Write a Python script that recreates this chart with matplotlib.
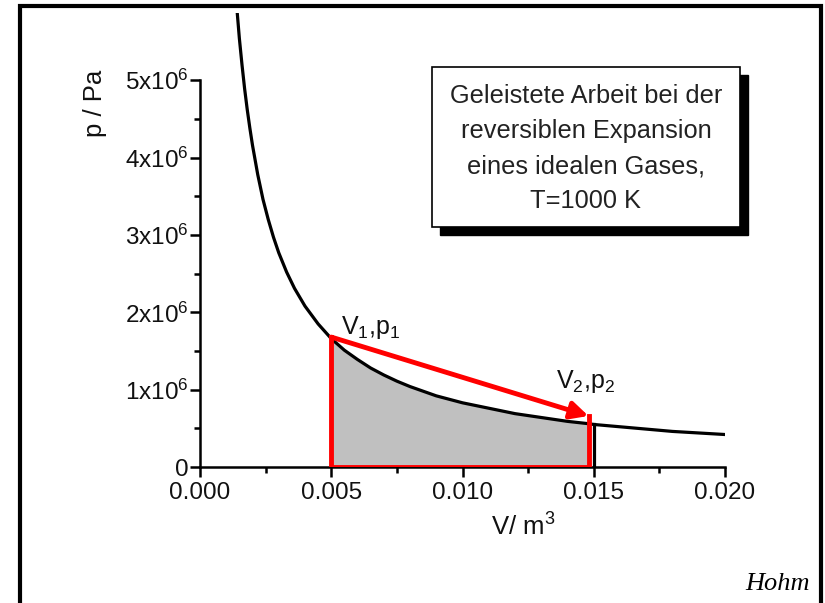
#!/usr/bin/env python3
"""Isotherm p-V diagram: work of a reversible expansion of an ideal gas."""

import matplotlib
matplotlib.use('Agg')
import matplotlib.pyplot as plt
from matplotlib.lines import Line2D
from matplotlib.patches import Rectangle
from matplotlib.ticker import FixedLocator, FuncFormatter

plt.rcParams['font.family'] = ['Liberation Sans', 'DejaVu Sans']
plt.rcParams['mathtext.fontset'] = 'custom'
plt.rcParams['mathtext.rm'] = 'Liberation Sans'
plt.rcParams['mathtext.it'] = 'Liberation Sans:italic'

# isotherm (V in m^3, p in 1e6 Pa)
volume = [0.00137, 0.0015, 0.0016, 0.0017, 0.0018, 0.0019, 0.0020, 0.0022,
          0.0024, 0.0026, 0.0028, 0.0030, 0.0033, 0.0036, 0.0040, 0.0045,
          0.0050, 0.0055, 0.0060, 0.0065, 0.0070, 0.0075, 0.0080, 0.0090,
          0.0100, 0.0110, 0.0120, 0.0130, 0.0140, 0.0148, 0.0150, 0.0160,
          0.0170, 0.0180, 0.0190, 0.0200]
pressure = [6.07, 5.54, 5.20, 4.89, 4.62, 4.38, 4.16, 3.78,
            3.46, 3.20, 2.97, 2.77, 2.52, 2.31, 2.08, 1.85,
            1.66, 1.51, 1.39, 1.28, 1.19, 1.11, 1.04, 0.92,
            0.83, 0.76, 0.69, 0.64, 0.59, 0.56, 0.55, 0.52,
            0.49, 0.46, 0.44, 0.42]
pressure = [p * 1e6 for p in pressure]

# red path V1,p1 -> V2,p2
v1, p1 = 0.0050, 1.68e6
v2, p2 = 0.0148, 0.66e6
v_end, p_end = 0.0150, 0.55e6

y_ticks = [0, 1e6, 2e6, 3e6, 4e6, 5e6]
y_minor = [0.5e6, 1.5e6, 2.5e6, 3.5e6, 4.5e6]
x_ticks = [0.000, 0.005, 0.010, 0.015, 0.020]
x_minor = [0.0025, 0.0075, 0.0125, 0.0175]
box_lines = ['Geleistete Arbeit bei der', 'reversiblen Expansion',
             'eines idealen Gases,', 'T=1000 K']

W, H = 825, 603
fig = plt.figure(figsize=(W / 100, H / 100), dpi=100)
ax = fig.add_axes([200 / W, 1 - 467 / H, 525 / W, 454 / H])
ax.set_xlim(0, 0.020)
ax.set_ylim(0, 5.87e6)

# grey area under the isotherm
fill_v = [v for v in volume if v1 <= v <= v2]
fill_p = [p for v, p in zip(volume, pressure) if v1 <= v <= v2]
ax.fill_between(fill_v, fill_p, 0, color='#c0c0c0', lw=0, zorder=1)
ax.plot([v1, v1], [0, fill_p[0]], color='#888888', lw=1, zorder=2)

ax.plot(volume, pressure, color='black', lw=2.3, zorder=3)
ax.plot([v_end, v_end], [0, p_end], color='black', lw=2.3, zorder=3)

ax.plot([v2, v2, v1, v1], [p2, 0, 0, p1], color='red', lw=3.5,
        solid_joinstyle='miter', zorder=4)
ax.annotate('', xy=(v2, p2), xytext=(v1, p1),
            arrowprops=dict(arrowstyle='-|>', color='red', lw=3.5,
                            mutation_scale=26, shrinkA=0, shrinkB=0),
            zorder=5)

ax.text(0.00538, 1.72e6, 'V$_1$,p$_1$', fontsize=18, color='#111111')
ax.text(0.01357, 1.02e6, 'V$_2$,p$_2$', fontsize=18, color='#111111')

# axes styling
for side in ['top', 'right']:
    ax.spines[side].set_visible(False)
ax.spines['left'].set_bounds(0, 5e6)
ax.spines['bottom'].set_bounds(0, 0.020)
for side in ['left', 'bottom']:
    ax.spines[side].set_linewidth(1.8)
ax.set_xticks(x_ticks)
ax.set_xticklabels([f'{x:.3f}' for x in x_ticks])
ax.set_yticks(y_ticks)
ax.yaxis.set_major_formatter(FuncFormatter(
    lambda y, pos: '0' if y == 0 else f'{y / 1e6:.0f}x10$^6$'))
ax.xaxis.set_minor_locator(FixedLocator(x_minor))
ax.yaxis.set_minor_locator(FixedLocator(y_minor))
ax.tick_params(which='major', length=7, width=1.8, labelsize=17.5,
               labelcolor='#111111')
ax.tick_params(which='minor', length=4, width=1.8)
ax.tick_params(axis='y', which='major', pad=1)
ax.tick_params(axis='x', which='major', pad=4)

fig.text(95 / W, 1 - 103 / H, 'p / Pa', rotation=90, fontsize=18.5,
         ha='center', va='center', color='#111111')
fig.text(523 / W, 1 - 527 / H, 'V/ m$^3$', fontsize=18.5,
         ha='center', va='center', color='#111111')

# text box with drop shadow
fig.patches.append(Rectangle((440 / W, 1 - 235 / H), 308 / W, 160 / H,
                             transform=fig.transFigure, facecolor='black',
                             edgecolor='black', zorder=5))
fig.patches.append(Rectangle((432 / W, 1 - 227 / H), 308 / W, 160 / H,
                             transform=fig.transFigure, facecolor='white',
                             edgecolor='black', lw=1.2, zorder=6))
for i, line in enumerate(box_lines):
    fig.text(586 / W, 1 - (96 + 35 * i) / H, line, fontsize=18.3,
             ha='center', va='center', color='#222222', zorder=7)

fig.text(810 / W, 1 - 590 / H, 'Hohm', fontsize=19, ha='right',
         va='baseline', family='Liberation Serif', style='italic')

# outer frame (left, top, right)
frame = Line2D([20 / W, 20 / W, 821 / W, 821 / W],
               [0, 1 - 6 / H, 1 - 6 / H, 0], transform=fig.transFigure,
               color='black', lw=3, solid_joinstyle='miter')
fig.lines.append(frame)

fig.savefig('out.png', dpi=100)
